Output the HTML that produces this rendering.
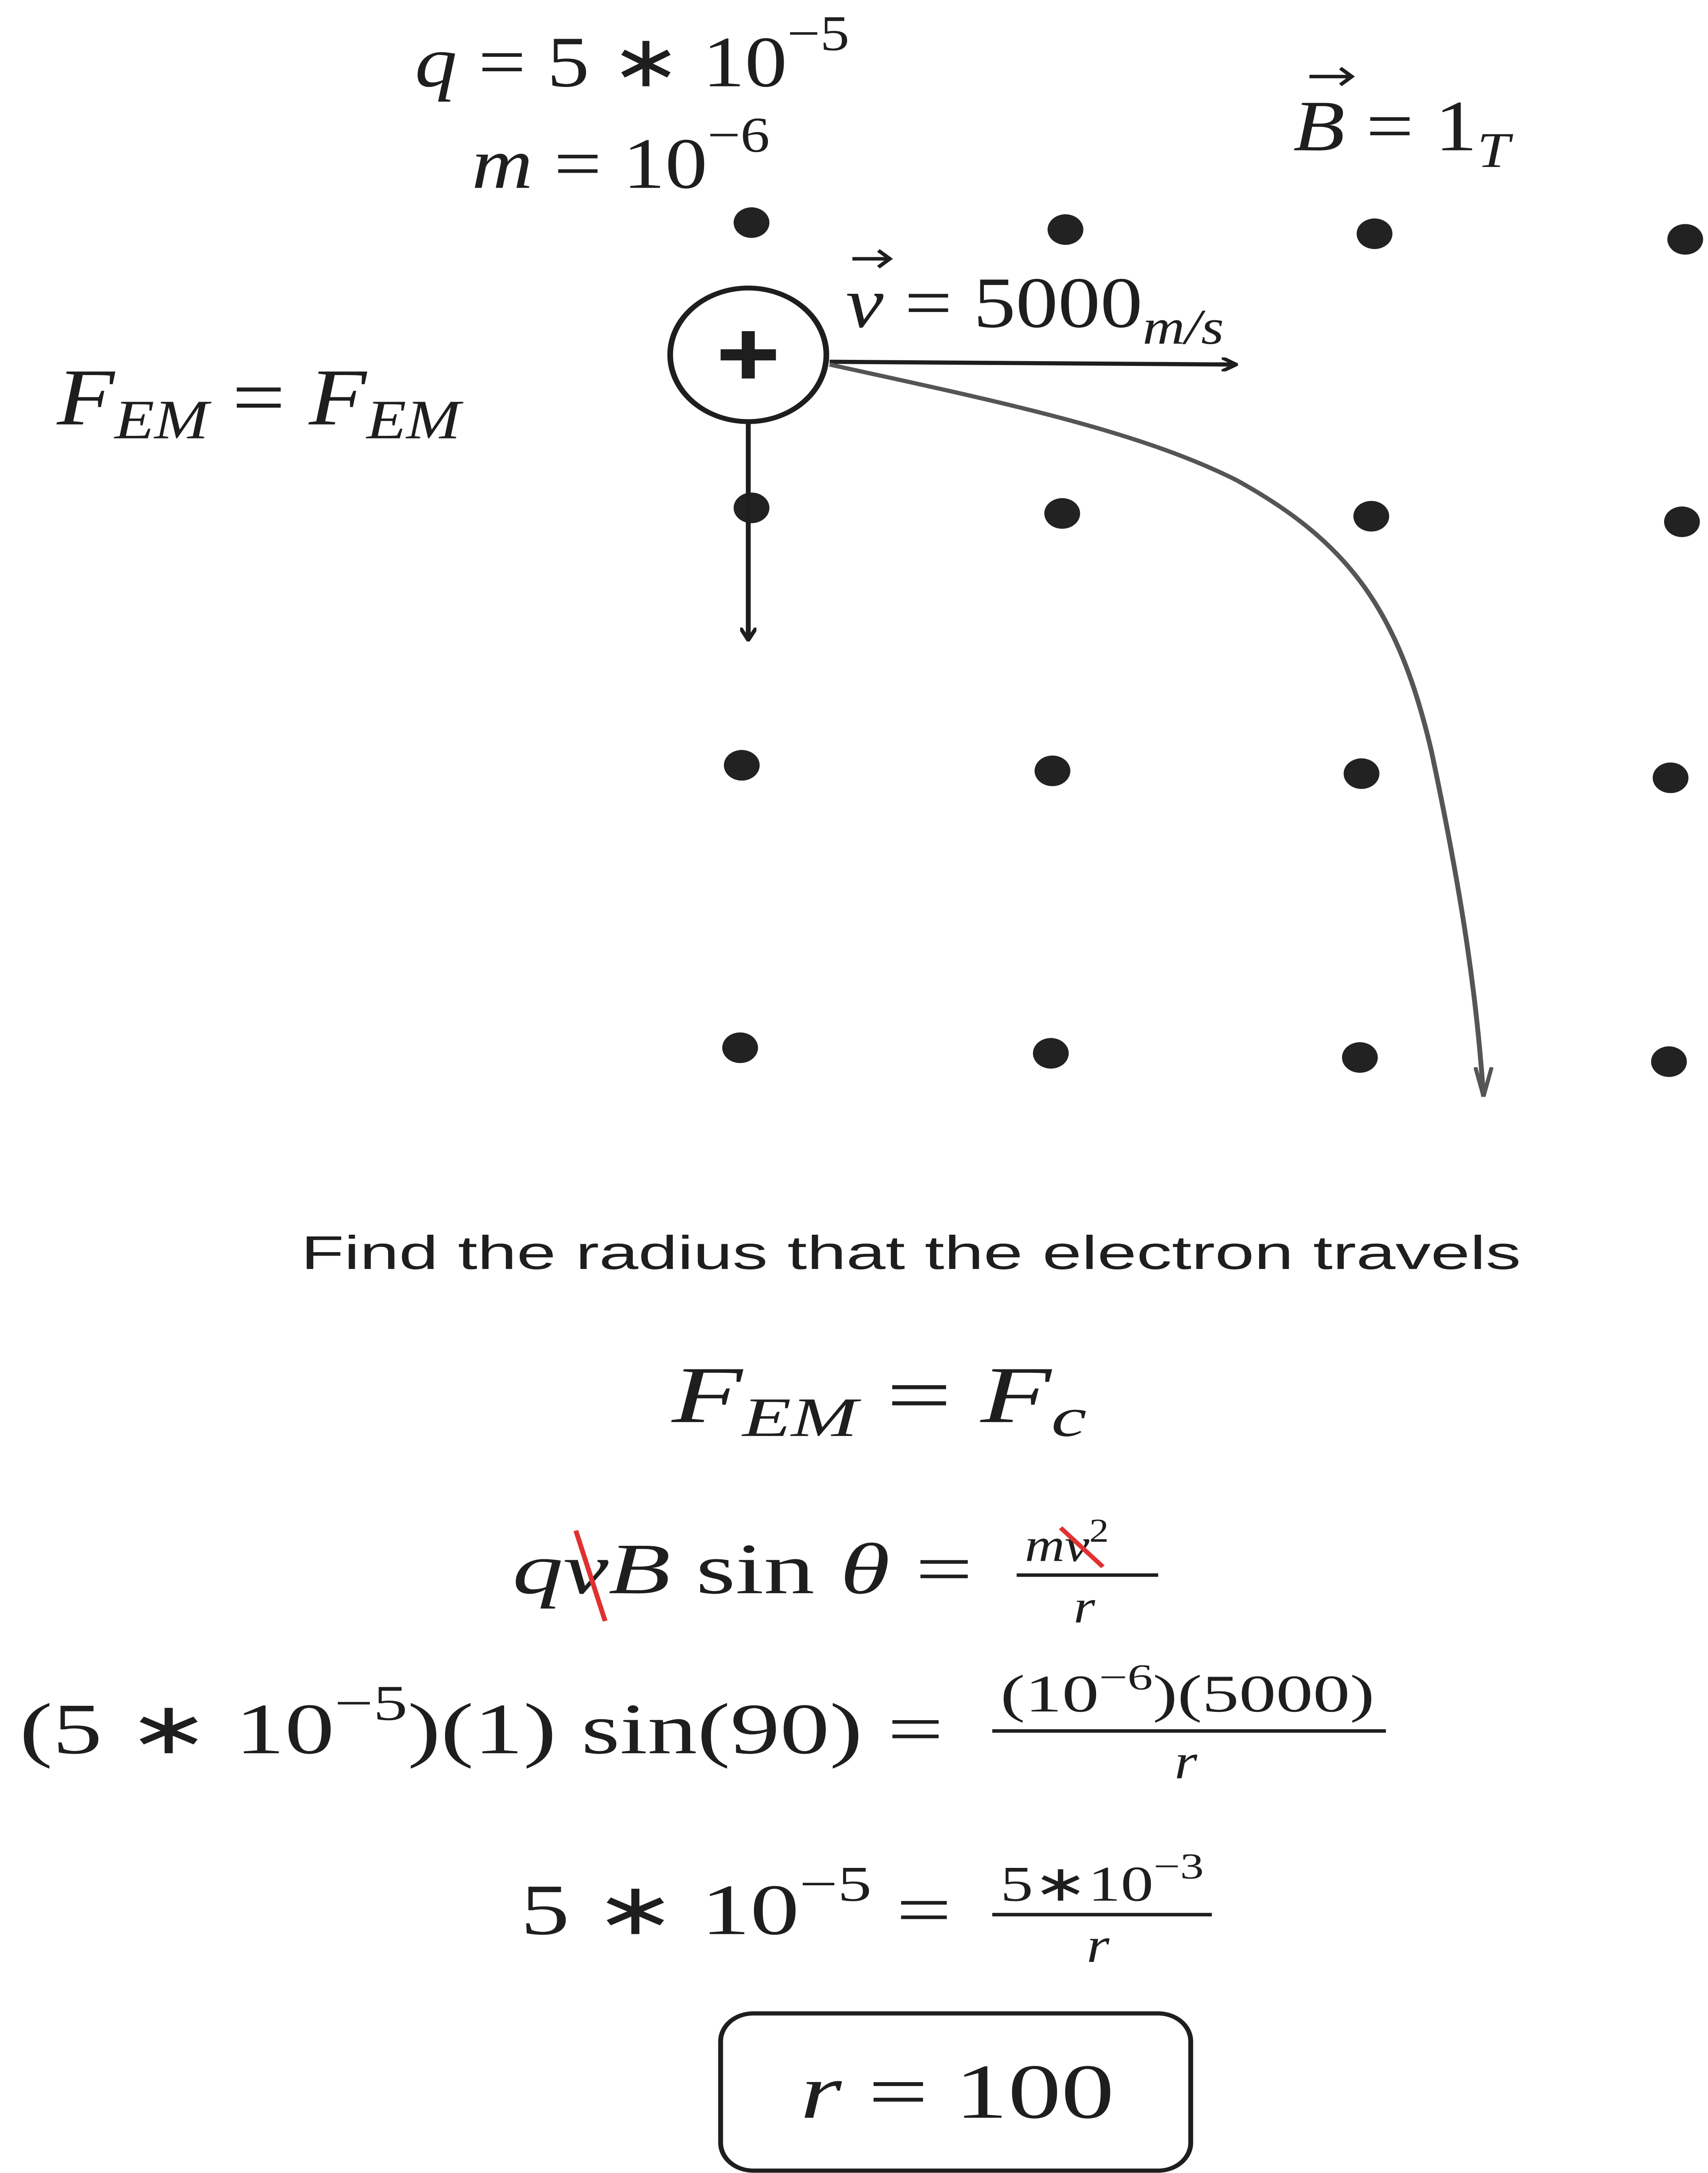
<!DOCTYPE html>
<html><head><meta charset="utf-8">
<style>
html,body{margin:0;padding:0;background:#fff;width:100%;height:100%;overflow:hidden;}
svg{display:block;position:fixed;left:0;top:0;width:100vw;height:100vh;}
.m{font-family:"Liberation Serif",serif;fill:#1e1e1e;}
.h{font-family:"Liberation Sans",sans-serif;fill:#1e1e1e;}
</style></head>
<body>
<svg viewBox="0 0 1050 1561.7" preserveAspectRatio="none" xmlns="http://www.w3.org/2000/svg">
<rect width="1050" height="1562" fill="#fff"/>
<defs>
<marker id="a" markerWidth="10" markerHeight="10" refX="9" refY="5" orient="auto" markerUnits="userSpaceOnUse"><path d="M0,0 L9,5 L0,10" fill="none" stroke="#1e1e1e" stroke-width="2.5"/></marker>
<marker id="g" markerWidth="12" markerHeight="22" refX="6" refY="21" orient="0" markerUnits="userSpaceOnUse"><path d="M1,0 L6,21 L11,0" fill="none" stroke="#555" stroke-width="2.5"/></marker>
</defs>
<text class="m" x="255" y="62" font-size="52" font-style="italic">q <tspan font-style="normal">= 5 ∗ 10</tspan><tspan dy="-26" font-size="36" font-style="normal">−5</tspan></text>
<text class="m" x="290" y="135" font-size="52"><tspan font-style="italic">m</tspan> = 10<tspan dy="-26" font-size="36">−6</tspan></text>
<text class="m" x="795" y="108" font-size="52"><tspan font-style="italic">B</tspan> = 1<tspan dy="12" font-size="36" font-style="italic">T</tspan></text>
<path d="M805,55 L830,55 M824,49 L831,55 L824,61" stroke="#1e1e1e" stroke-width="2.5" fill="none"/>
<text class="m" x="520" y="235" font-size="52"><tspan font-style="italic">v</tspan> = 5000<tspan dy="12" font-size="36" font-style="italic">m/s</tspan></text>
<path d="M524,186 L546,186 M540,180 L547,186 L540,192" stroke="#1e1e1e" stroke-width="2.5" fill="none"/>
<text class="m" x="35" y="305" font-size="58" font-style="italic">F<tspan dy="10" font-size="40">EM</tspan><tspan dy="-10" font-style="normal"> = </tspan>F<tspan dy="10" font-size="40">EM</tspan></text>
<g fill="#222">
<circle cx="462" cy="160" r="11"/><circle cx="655" cy="165" r="11"/><circle cx="845" cy="168" r="11"/><circle cx="1036" cy="172" r="11"/>
<circle cx="462" cy="365" r="11"/><circle cx="653" cy="369" r="11"/><circle cx="843" cy="371" r="11"/><circle cx="1034" cy="375" r="11"/>
<circle cx="456" cy="550" r="11"/><circle cx="647" cy="554" r="11"/><circle cx="837" cy="556" r="11"/><circle cx="1027" cy="559" r="11"/>
<circle cx="455" cy="753" r="11"/><circle cx="646" cy="757" r="11"/><circle cx="836" cy="760" r="11"/><circle cx="1026" cy="763" r="11"/>
</g>
<circle cx="460" cy="255" r="48" fill="none" stroke="#1e1e1e" stroke-width="3.5"/>
<path d="M460,238 V272 M443,255 H477" stroke="#1e1e1e" stroke-width="8"/>
<line x1="510" y1="260" x2="760" y2="262" stroke="#1e1e1e" stroke-width="3" marker-end="url(#a)"/>
<line x1="460" y1="302" x2="460" y2="460" stroke="#1e1e1e" stroke-width="3" marker-end="url(#a)"/>
<path d="M510,262 C620,290 700,310 760,345 C830,390 860,440 880,540 C900,650 908,720 912,788" fill="none" stroke="#555" stroke-width="3" marker-end="url(#g)"/>
<text class="h" x="185" y="912" font-size="34" textLength="750" lengthAdjust="spacingAndGlyphs">Find the radius that the electron travels</text>
<text class="m" x="413" y="1022" font-size="58" font-style="italic" textLength="255" lengthAdjust="spacingAndGlyphs">F<tspan dy="10" font-size="40">EM</tspan><tspan dy="-10" font-style="normal"> = </tspan>F<tspan dy="10" font-size="40">c</tspan></text>
<text class="m" x="315" y="1145" font-size="52" textLength="283" lengthAdjust="spacingAndGlyphs"><tspan font-style="italic">qvB</tspan> sin <tspan font-style="italic">θ</tspan> =</text>
<line x1="354" y1="1100" x2="372" y2="1165" stroke="#e03131" stroke-width="3"/>
<text class="m" x="630" y="1122" font-size="34" font-style="italic">mv<tspan dy="-14" font-size="24" font-style="normal">2</tspan></text>
<line x1="652" y1="1098" x2="678" y2="1126" stroke="#e03131" stroke-width="3"/>
<line x1="625" y1="1132" x2="712" y2="1132" stroke="#1e1e1e" stroke-width="2.5"/>
<text class="m" x="660" y="1166" font-size="34" font-style="italic">r</text>
<text class="m" x="12" y="1260" font-size="52" textLength="568" lengthAdjust="spacingAndGlyphs">(5 ∗ 10<tspan dy="-24" font-size="36">−5</tspan><tspan dy="24">)(1) sin(90) =</tspan></text>
<text class="m" x="615" y="1230" font-size="38" textLength="230" lengthAdjust="spacingAndGlyphs">(10<tspan dy="-16" font-size="26">−6</tspan><tspan dy="16">)(5000)</tspan></text>
<line x1="610" y1="1244" x2="852" y2="1244" stroke="#1e1e1e" stroke-width="2.5"/>
<text class="m" x="722" y="1278" font-size="36" font-style="italic">r</text>
<text class="m" x="320" y="1390" font-size="52" textLength="265" lengthAdjust="spacingAndGlyphs">5 ∗ 10<tspan dy="-24" font-size="36">−5</tspan><tspan dy="24"> =</tspan></text>
<text class="m" x="615" y="1366" font-size="36" textLength="125" lengthAdjust="spacingAndGlyphs">5∗10<tspan dy="-16" font-size="26">−3</tspan></text>
<line x1="610" y1="1376" x2="745" y2="1376" stroke="#1e1e1e" stroke-width="2.5"/>
<text class="m" x="668" y="1410" font-size="36" font-style="italic">r</text>
<rect x="443" y="1447" width="289" height="113" rx="20" fill="none" stroke="#1e1e1e" stroke-width="3"/>
<text class="m" x="492" y="1522" font-size="56" textLength="193" lengthAdjust="spacingAndGlyphs"><tspan font-style="italic">r</tspan> = 100</text>
</svg>
</body></html>
